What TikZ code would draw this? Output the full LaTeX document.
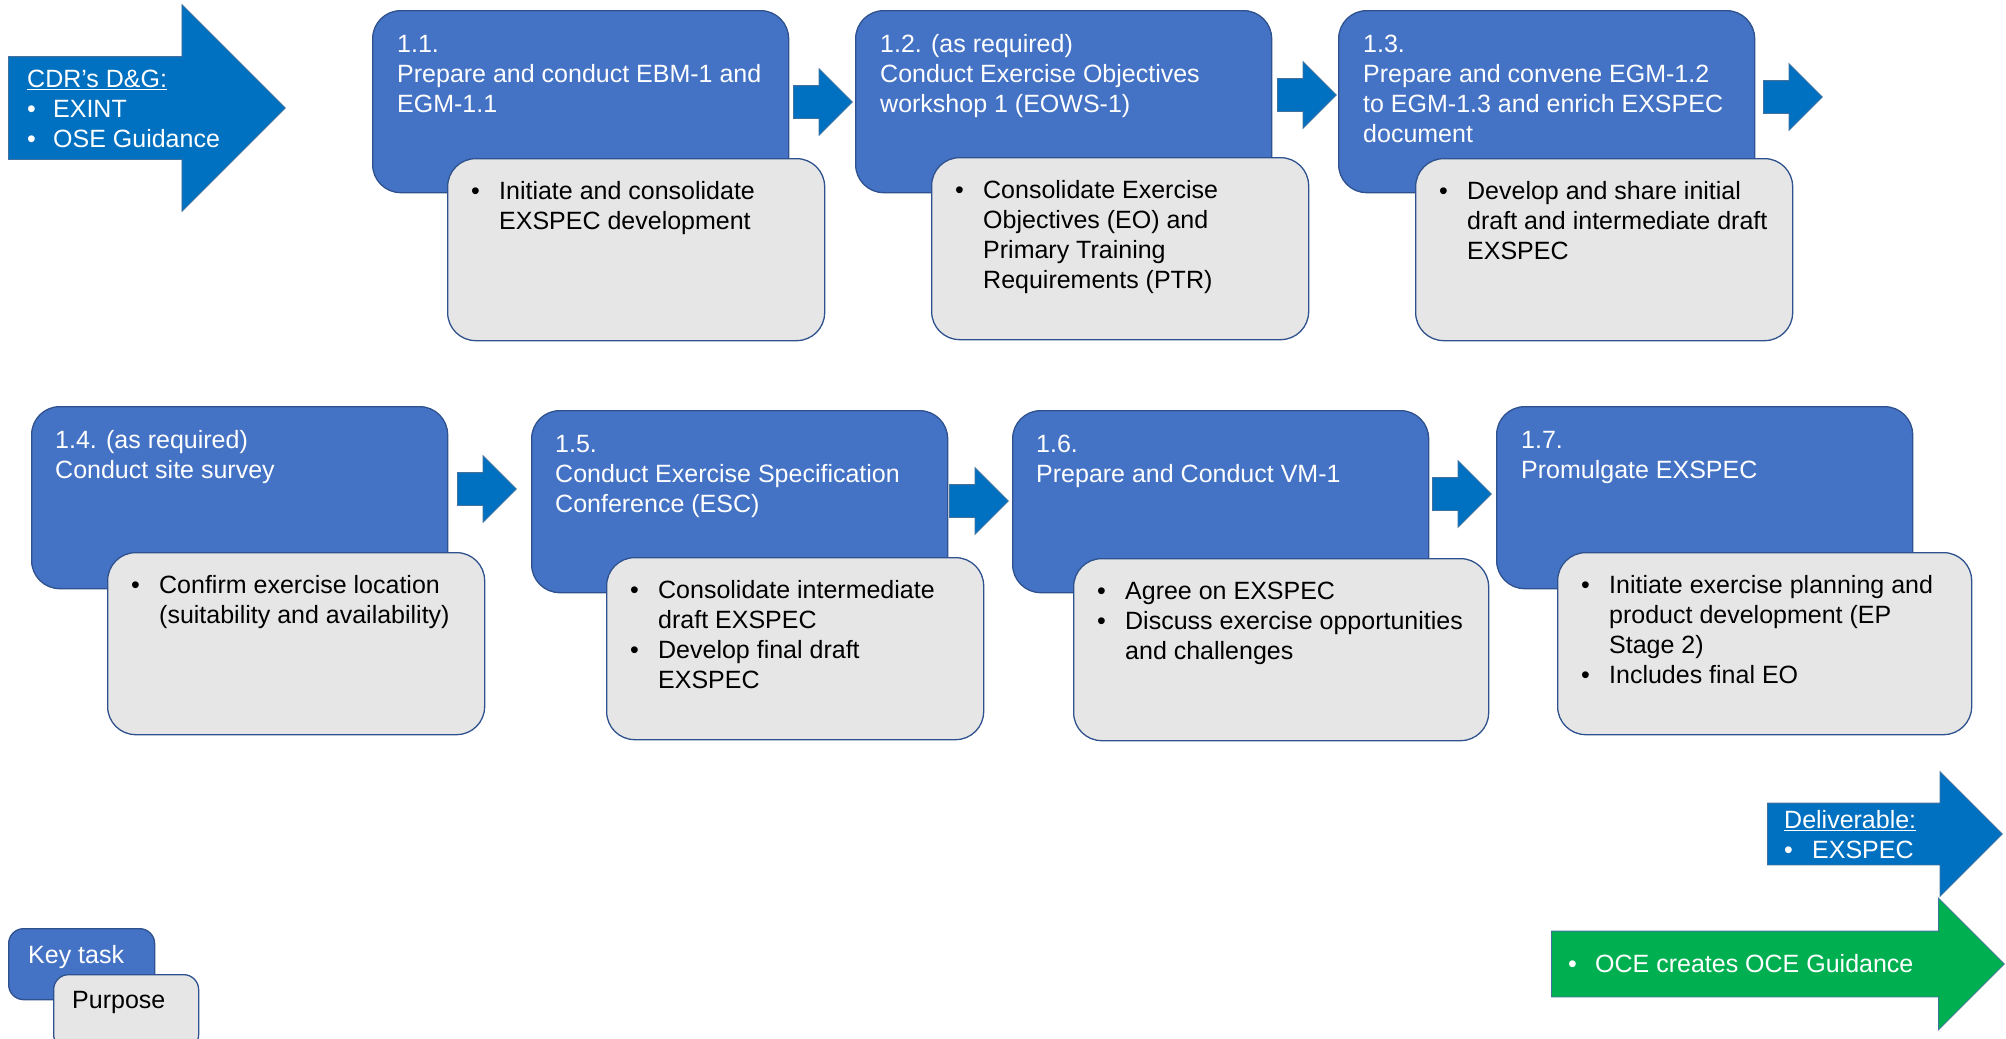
\documentclass[tikz,border=0pt]{standalone}
\usepackage{fontspec}
\setmainfont{Liberation Sans}
\usepackage{tikz}
\usetikzlibrary{shapes.arrows}

\definecolor{taskblue}{HTML}{4472C4}
\definecolor{boxedge}{HTML}{2F528F}
\definecolor{purposegrey}{HTML}{E6E6E6}
\definecolor{flowblue}{HTML}{0070C0}
\definecolor{flowedge}{HTML}{41719C}
\definecolor{ocegreen}{HTML}{00B050}

\newcommand{\boxfont}{\fontsize{25pt}{30pt}\selectfont}

\tikzset{
  keytask/.style={draw=boxedge, fill=taskblue, line width=1.3pt, rounded corners=28pt,
    minimum width=416pt, minimum height=182pt, inner sep=0pt, anchor=north west},
  purpose/.style={draw=boxedge, fill=purposegrey, line width=1.3pt, rounded corners=28pt,
    minimum width=377pt, minimum height=182pt, inner sep=0pt, anchor=north west},
  tasktext/.style={text=white, font=\boxfont, inner sep=0pt, anchor=north west},
  purposetext/.style={text=black, font=\boxfont, inner sep=0pt, anchor=north west},
  flow/.style={single arrow, draw=flowedge, fill=flowblue, line width=0.8pt, inner xsep=0pt,
    inner ysep=16pt, single arrow head extend=17pt, minimum height=59pt, anchor=tail},
  bigflow/.style={single arrow, draw=flowedge, line width=0.8pt, inner xsep=0pt, anchor=tail}
}

\begin{document}
\begin{tikzpicture}[x=1pt,y=-1pt]
\useasboundingbox (0,0) rectangle (2006,1039);

% input and legend
\node(cdr) at (8,108)[bigflow,fill=flowblue,inner ysep=51pt,single arrow head extend=52pt,minimum height=277pt] {};
\node(cdrtext) at (27,66)[tasktext] {\begin{tabular}[t]{@{}p{26pt}@{}l@{}}\multicolumn{2}{@{}l@{}}{\underline{CDR’s D\&G:}}\\ \textbullet & EXINT\\ \textbullet & OSE Guidance\end{tabular}};

% row 1
\node(t11) at (372,10)[keytask] {};
\node(p11) at (447,158)[purpose] {};
\node(t11text) at (397,31)[tasktext] {\begin{tabular}[t]{@{}l@{}}1.1.\\Prepare and conduct EBM-1 and\\EGM-1.1\end{tabular}};
\node(p11text) at (471,178)[purposetext] {\begin{tabular}[t]{@{}p{28pt}@{}l@{}}\textbullet & Initiate and consolidate\\ & EXSPEC development\end{tabular}};

\node(t12) at (855,10)[keytask] {};
\node(p12) at (931,157)[purpose] {};
\node(t12text) at (880,31)[tasktext] {\begin{tabular}[t]{@{}l@{}}1.2. (as required)\\Conduct Exercise Objectives\\workshop 1 (EOWS-1)\end{tabular}};
\node(p12text) at (955,177)[purposetext] {\begin{tabular}[t]{@{}p{28pt}@{}l@{}}\textbullet & Consolidate Exercise\\ & Objectives (EO) and\\ & Primary Training\\ & Requirements (PTR)\end{tabular}};

\node(t13) at (1338,10)[keytask] {};
\node(p13) at (1415,158)[purpose] {};
\node(t13text) at (1363,31)[tasktext] {\begin{tabular}[t]{@{}l@{}}1.3.\\Prepare and convene EGM-1.2\\to EGM-1.3 and enrich EXSPEC\\document\end{tabular}};
\node(p13text) at (1439,178)[purposetext] {\begin{tabular}[t]{@{}p{28pt}@{}l@{}}\textbullet & Develop and share initial\\ & draft and intermediate draft\\ & EXSPEC\end{tabular}};

\node(f11) at (793,102)[flow] {};
\node(f12) at (1277,95)[flow] {};
\node(f13) at (1763,97)[flow] {};

% row 2
\node(t14) at (31,406)[keytask] {};
\node(p14) at (107,552)[purpose] {};
\node(t14text) at (55,427)[tasktext] {\begin{tabular}[t]{@{}l@{}}1.4. (as required)\\Conduct site survey\end{tabular}};
\node(p14text) at (131,572)[purposetext] {\begin{tabular}[t]{@{}p{28pt}@{}l@{}}\textbullet & Confirm exercise location\\ & (suitability and availability)\end{tabular}};

\node(t15) at (531,410)[keytask] {};
\node(p15) at (606,557)[purpose] {};
\node(t15text) at (555,431)[tasktext] {\begin{tabular}[t]{@{}l@{}}1.5.\\Conduct Exercise Specification\\Conference (ESC)\end{tabular}};
\node(p15text) at (630,577)[purposetext] {\begin{tabular}[t]{@{}p{28pt}@{}l@{}}\textbullet & Consolidate intermediate\\ & draft EXSPEC\\ \textbullet & Develop final draft\\ & EXSPEC\end{tabular}};

\node(t16) at (1012,410)[keytask] {};
\node(p16) at (1073,558)[purpose,minimum width=415pt] {};
\node(t16text) at (1036,431)[tasktext] {\begin{tabular}[t]{@{}l@{}}1.6.\\Prepare and Conduct VM-1\end{tabular}};
\node(p16text) at (1097,578)[purposetext] {\begin{tabular}[t]{@{}p{28pt}@{}l@{}}\textbullet & Agree on EXSPEC\\ \textbullet & Discuss exercise opportunities\\ & and challenges\end{tabular}};

\node(t17) at (1496,406)[keytask] {};
\node(p17) at (1557,552)[purpose,minimum width=414pt] {};
\node(t17text) at (1521,427)[tasktext] {\begin{tabular}[t]{@{}l@{}}1.7.\\Promulgate EXSPEC\end{tabular}};
\node(p17text) at (1581,572)[purposetext] {\begin{tabular}[t]{@{}p{28pt}@{}l@{}}\textbullet & Initiate exercise planning and\\ & product development (EP\\ & Stage 2)\\ \textbullet & Includes final EO\end{tabular}};

\node(f14) at (457,489)[flow] {};
\node(f15) at (949,501)[flow] {};
\node(f16) at (1432,494)[flow] {};

% outputs
\node(dlv) at (1767,834)[bigflow,fill=flowblue,inner ysep=30.5pt,single arrow head extend=31.5pt,minimum height=235pt] {};
\node(dlvtext) at (1784,807)[tasktext] {\begin{tabular}[t]{@{}p{28pt}@{}l@{}}\multicolumn{2}{@{}l@{}}{\underline{Deliverable:}}\\ \textbullet & EXSPEC\end{tabular}};
\node(oce) at (1551,964)[bigflow,fill=ocegreen,inner ysep=32.5pt,single arrow head extend=33pt,minimum height=453pt] {};
\node(ocetext) at (1568,951)[tasktext] {\begin{tabular}[t]{@{}p{27pt}@{}l@{}}\textbullet & OCE creates OCE Guidance\end{tabular}};

% legend
\node(keytask) at (8,928)[keytask,rounded corners=15pt,minimum width=146pt,minimum height=71pt] {};
\node(purpose) at (53,974)[purpose,rounded corners=15pt,minimum width=145pt,minimum height=75pt] {};
\node(keytasktext) at (28,942)[tasktext] {\strut Key task};
\node(purposetext) at (72,987)[purposetext] {\strut Purpose};

\end{tikzpicture}
\end{document}
